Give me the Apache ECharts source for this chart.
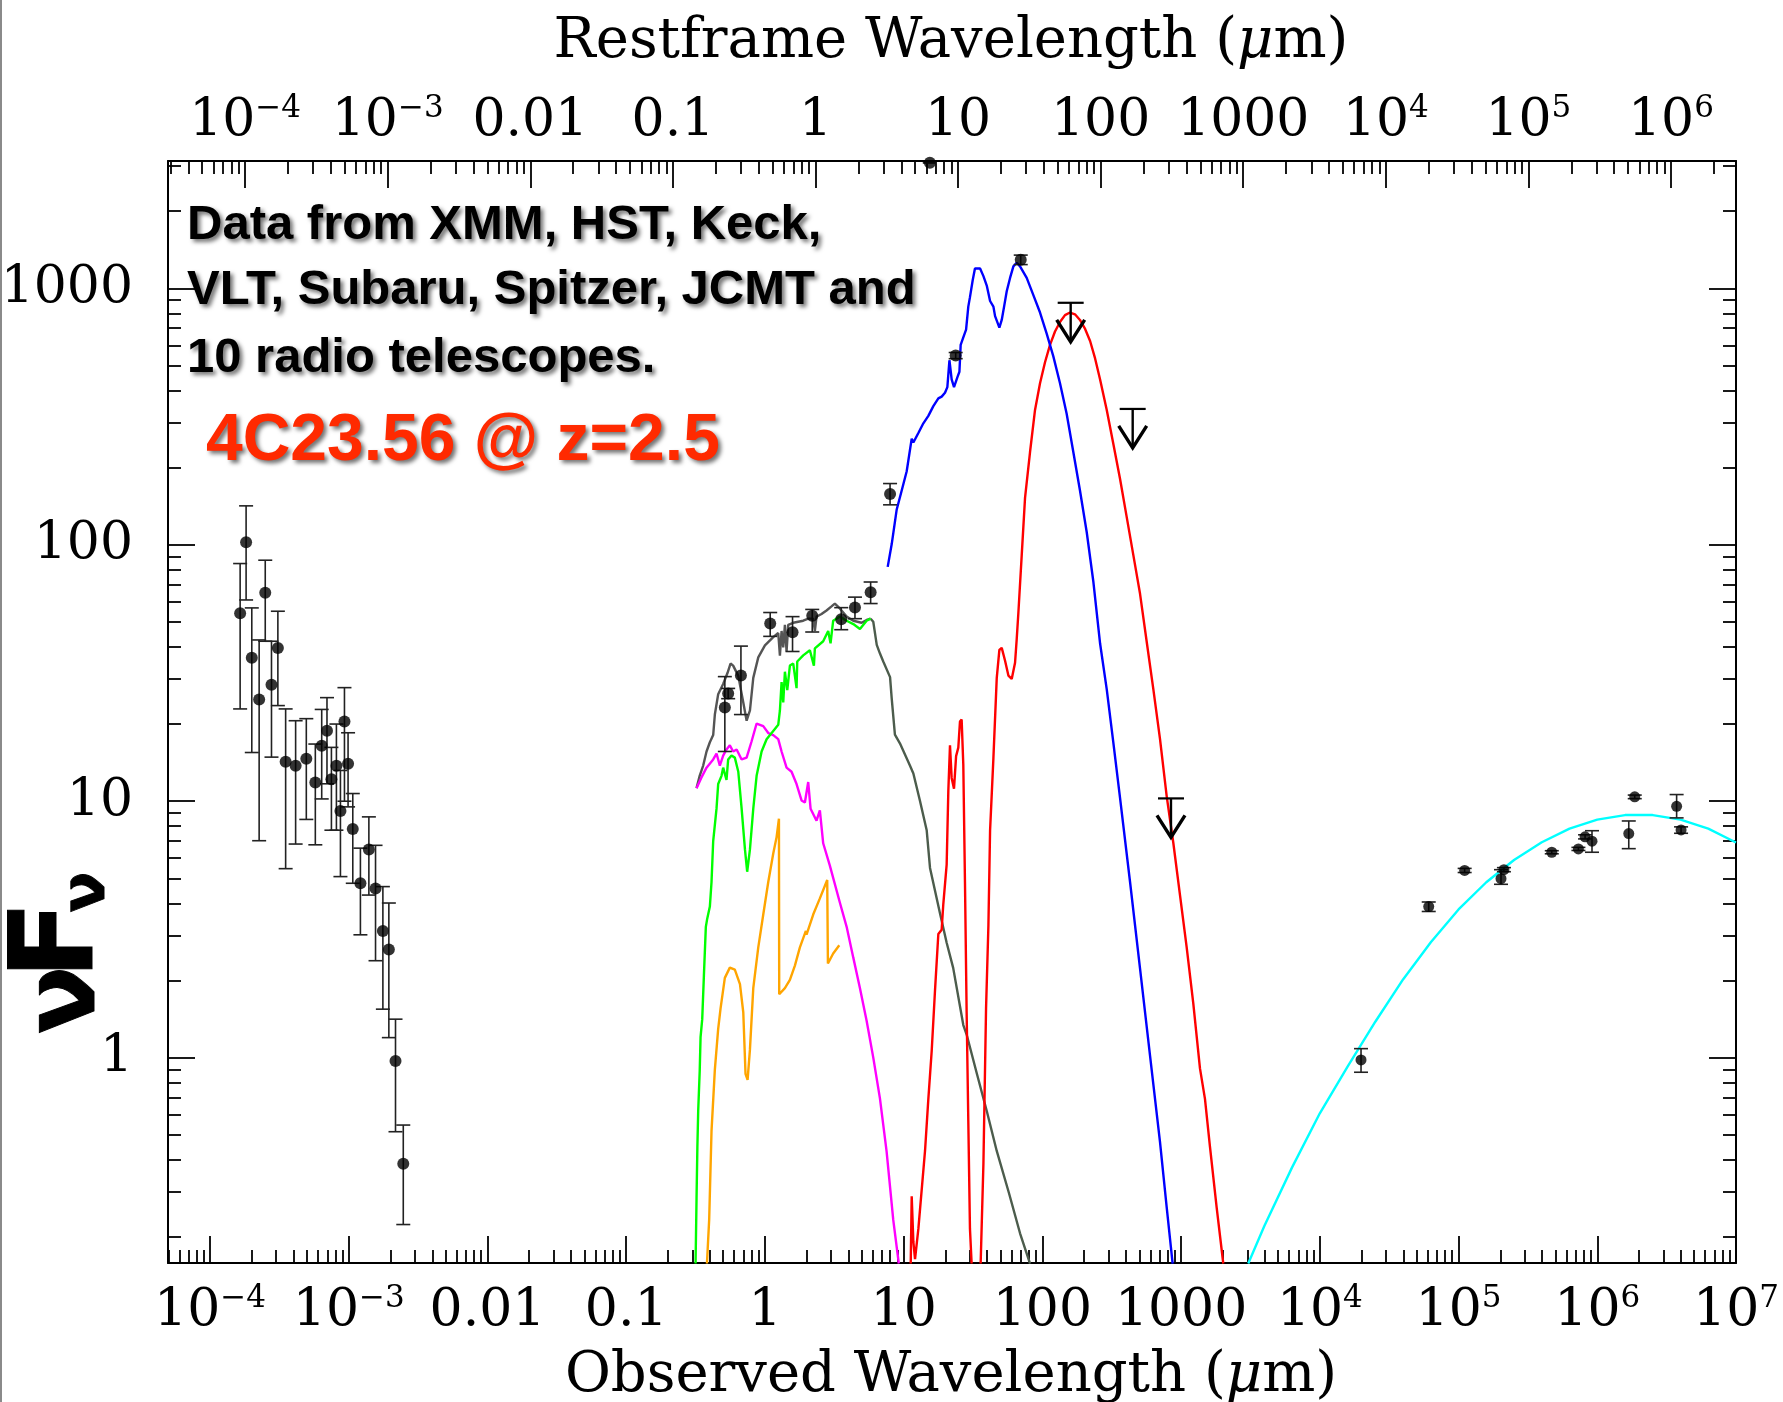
<!DOCTYPE html>
<html><head><meta charset="utf-8">
<script src="https://cdn.jsdelivr.net/npm/echarts@6/dist/echarts.min.js"></script>
<style>html,body{margin:0;padding:0;background:#fff}#chart{width:1783px;height:1402px}</style>
</head><body><div id="chart"></div>
<script>
// ---- All values below are log10 quantities: [log10 wavelength(um), log10 nuFnu] ----
// Axis tick exponents / labels
const bottomTickExps = [-4,-3,-2,-1,0,1,2,3,4,5,6,7];
const topTickExps = [-4,-3,-2,-1,0,1,2,3,4,5,6];
const yTickExps = [0,1,2,3];
const decadeText = {'-2':'0.01','-1':'0.1','0':'1','1':'10','2':'100','3':'1000'};
const minorMult = [2,3,4,5,6,7,8,9];
const xRange = [-4.303, 7];        // observed wavelength (log10 um)
const topRange = [-4.541, 6.456];  // restframe wavelength axis as drawn (log10 um)
const yRange = [-0.801, 3.497];    // log10 nuFnu

// X-ray points: [logLam, logF, logLo, logHi]
const xrayPts = [
[-3.783,1.733,1.360,1.927],[-3.740,2.010,1.785,2.152],[-3.699,1.560,1.190,1.754],[-3.646,1.397,0.846,1.629],
[-3.602,1.813,1.624,1.940],[-3.557,1.454,1.172,1.624],[-3.511,1.598,1.373,1.741],[-3.455,1.154,0.737,1.360],
[-3.383,1.138,0.833,1.314],[-3.306,1.166,0.929,1.322],[-3.241,1.073,0.830,1.223],[-3.195,1.216,1.009,1.358],
[-3.157,1.275,1.068,1.404],[-3.125,1.086,0.887,1.210],[-3.089,1.138,0.887,1.301],[-3.060,0.962,0.706,1.120],
[-3.031,1.311,1.000,1.443],[-3.005,1.146,0.978,1.267],[-2.971,0.892,0.680,1.030],[-2.916,0.680,0.479,0.817],
[-2.855,0.812,0.634,0.939],[-2.807,0.660,0.378,0.828],[-2.754,0.494,0.189,0.667],[-2.711,0.422,0.078,0.603],
[-2.663,-0.013,-0.289,0.150],[-2.607,-0.414,-0.651,-0.263]
];
// Optical / IR photometry
const optIrPts = [
[-0.289,1.366,1.194,1.486],[-0.265,1.420,1.400,1.440],[-0.173,1.490,1.338,1.605],[0.038,1.693,1.643,1.736],
[0.199,1.659,1.584,1.720],[0.341,1.723,1.660,1.748],[0.550,1.710,1.669,1.755],[0.649,1.756,1.712,1.796],
[0.762,1.815,1.771,1.855],[0.902,2.198,2.156,2.239],[1.375,2.738,2.726,2.750],[1.844,3.112,3.093,3.130],
[1.189,3.490,3.490,3.490]
];
// Radio photometry
const radioPts = [
[4.297,-0.009,-0.057,0.035],[4.785,0.589,0.570,0.607],[5.044,0.730,0.722,0.738],[5.306,0.698,0.676,0.733],
[5.327,0.733,0.725,0.741],[5.672,0.801,0.795,0.807],[5.864,0.814,0.808,0.820],[5.912,0.861,0.853,0.869],
[5.962,0.844,0.801,0.885],[6.227,0.874,0.815,0.923],[6.270,1.017,1.010,1.024],[6.572,0.980,0.935,1.026],
[6.604,0.888,0.875,0.900]
];
// Upper limits (sub-mm)
const upperLimits = [[2.204,2.944],[2.651,2.530],[2.927,1.011]];

// Model curves
const grayTotal = [[-0.493,1.051],[-0.470,1.100],[-0.445,1.139],[-0.421,1.194],[-0.397,1.230],[-0.373,1.258],[-0.361,1.338],[-0.337,1.417],[-0.301,1.457],[-0.270,1.500],[-0.248,1.537],[-0.229,1.529],[-0.192,1.489],[-0.156,1.385],[-0.132,1.314],[-0.108,1.354],[-0.084,1.481],[-0.048,1.561],[0.000,1.608],[0.060,1.640],[0.096,1.656],[0.108,1.568],[0.120,1.664],[0.132,1.600],[0.144,1.688],[0.156,1.584],[0.168,1.688],[0.204,1.696],[0.240,1.700],[0.276,1.704],[0.312,1.712],[0.348,1.712],[0.360,1.664],[0.372,1.720],[0.408,1.730],[0.444,1.744],[0.480,1.760],[0.504,1.771],[0.540,1.752],[0.589,1.720],[0.637,1.704],[0.697,1.696],[0.733,1.707],[0.762,1.712]];
const stellarTail = [[0.762,1.712],[0.781,1.700],[0.806,1.610],[0.830,1.575],[0.853,1.545],[0.902,1.484],[0.914,1.400],[0.937,1.260],[0.973,1.226],[1.046,1.138],[1.070,1.108],[1.117,1.003],[1.166,0.887],[1.190,0.740],[1.261,0.565],[1.310,0.448],[1.357,0.350],[1.430,0.127],[1.454,0.090],[1.526,-0.059],[1.600,-0.210],[1.671,-0.364],[1.760,-0.530],[1.839,-0.685],[1.911,-0.803]];
const greenStellar = [[-0.500,-0.803],[-0.493,-0.550],[-0.487,-0.350],[-0.481,-0.207],[-0.470,-0.050],[-0.464,0.080],[-0.452,0.150],[-0.440,0.319],[-0.426,0.510],[-0.416,0.542],[-0.397,0.589],[-0.385,0.685],[-0.373,0.844],[-0.349,0.971],[-0.337,1.067],[-0.313,1.099],[-0.301,1.131],[-0.277,1.083],[-0.265,1.163],[-0.241,1.178],[-0.217,1.170],[-0.192,1.115],[-0.168,0.971],[-0.144,0.812],[-0.128,0.725],[-0.108,0.812],[-0.084,0.971],[-0.060,1.099],[-0.024,1.194],[0.012,1.242],[0.060,1.274],[0.096,1.298],[0.108,1.354],[0.120,1.465],[0.132,1.385],[0.144,1.505],[0.161,1.433],[0.180,1.529],[0.204,1.537],[0.228,1.441],[0.233,1.545],[0.276,1.569],[0.324,1.589],[0.353,1.529],[0.360,1.596],[0.420,1.624],[0.456,1.664],[0.473,1.616],[0.492,1.704],[0.540,1.720],[0.589,1.704],[0.637,1.691],[0.685,1.672],[0.733,1.704],[0.762,1.712]];
const magentaYoung = [[-0.493,1.051],[-0.460,1.090],[-0.421,1.131],[-0.373,1.163],[-0.349,1.186],[-0.325,1.139],[-0.301,1.178],[-0.277,1.202],[-0.253,1.218],[-0.229,1.194],[-0.204,1.202],[-0.168,1.163],[-0.132,1.170],[-0.096,1.234],[-0.060,1.303],[-0.012,1.293],[0.024,1.266],[0.060,1.258],[0.096,1.242],[0.120,1.194],[0.156,1.131],[0.192,1.115],[0.228,1.067],[0.264,1.003],[0.288,0.995],[0.312,1.075],[0.329,0.971],[0.372,0.924],[0.396,0.964],[0.420,0.836],[0.468,0.749],[0.540,0.605],[0.589,0.510],[0.637,0.390],[0.685,0.271],[0.733,0.144],[0.781,0.000],[0.829,-0.159],[0.877,-0.366],[0.925,-0.633],[0.965,-0.803]];
const orangeOld = [[-0.418,-0.803],[-0.402,-0.633],[-0.385,-0.286],[-0.361,-0.047],[-0.337,0.112],[-0.320,0.191],[-0.289,0.311],[-0.253,0.351],[-0.217,0.343],[-0.180,0.287],[-0.156,0.176],[-0.140,-0.063],[-0.125,-0.087],[-0.108,0.032],[-0.084,0.271],[-0.048,0.430],[-0.012,0.558],[0.024,0.685],[0.060,0.796],[0.084,0.860],[0.101,0.932],[0.103,0.247],[0.144,0.271],[0.180,0.303],[0.216,0.359],[0.252,0.430],[0.295,0.494],[0.300,0.480],[0.348,0.558],[0.396,0.621],[0.449,0.693],[0.454,0.367],[0.492,0.406],[0.536,0.438]];
const redDustA = [[1.051,-0.803],[1.058,-0.541],[1.070,-0.719],[1.082,-0.786],[1.106,-0.668],[1.130,-0.516],[1.154,-0.364],[1.178,-0.161],[1.202,0.025],[1.226,0.262],[1.250,0.482],[1.274,0.499],[1.286,0.600],[1.310,0.753],[1.322,1.040],[1.334,1.218],[1.346,1.091],[1.363,1.049],[1.378,1.176],[1.394,1.209],[1.406,1.311],[1.418,1.319],[1.430,1.142],[1.442,0.685],[1.454,0.178],[1.466,-0.245],[1.478,-0.668],[1.490,-0.803]];
const redDustB = [[1.555,-0.803],[1.575,-0.414],[1.594,0.194],[1.611,0.516],[1.623,0.887],[1.647,1.168],[1.671,1.480],[1.690,1.590],[1.707,1.598],[1.731,1.548],[1.755,1.490],[1.779,1.477],[1.803,1.540],[1.815,1.632],[1.827,1.735],[1.851,1.959],[1.875,2.183],[1.911,2.362],[1.947,2.526],[1.983,2.630],[2.019,2.712],[2.055,2.780],[2.091,2.832],[2.127,2.869],[2.163,2.896],[2.199,2.906],[2.235,2.899],[2.271,2.877],[2.308,2.842],[2.344,2.795],[2.380,2.727],[2.416,2.645],[2.464,2.526],[2.512,2.392],[2.560,2.257],[2.608,2.108],[2.656,1.959],[2.704,1.809],[2.752,1.622],[2.800,1.436],[2.848,1.242],[2.896,1.020],[2.944,0.837],[2.992,0.634],[3.040,0.431],[3.088,0.211],[3.136,-0.042],[3.172,-0.161],[3.208,-0.347],[3.256,-0.583],[3.304,-0.803]];
const blueDust = [[0.885,1.914],[0.914,2.003],[0.950,2.138],[0.986,2.212],[1.022,2.287],[1.058,2.414],[1.070,2.399],[1.106,2.436],[1.142,2.474],[1.178,2.503],[1.214,2.541],[1.250,2.571],[1.274,2.578],[1.298,2.593],[1.315,2.615],[1.330,2.720],[1.346,2.645],[1.363,2.615],[1.387,2.653],[1.402,2.675],[1.411,2.780],[1.430,2.809],[1.450,2.839],[1.466,2.929],[1.478,2.966],[1.498,3.033],[1.514,3.078],[1.551,3.078],[1.575,3.048],[1.599,3.011],[1.623,2.951],[1.647,2.929],[1.659,2.892],[1.690,2.847],[1.707,2.877],[1.724,2.929],[1.743,2.989],[1.767,3.041],[1.791,3.086],[1.815,3.100],[1.839,3.086],[1.887,3.041],[1.935,2.974],[1.983,2.906],[2.031,2.824],[2.079,2.735],[2.127,2.630],[2.175,2.511],[2.223,2.362],[2.271,2.212],[2.320,2.048],[2.368,1.854],[2.416,1.615],[2.464,1.436],[2.512,1.227],[2.560,1.012],[2.632,0.685],[2.704,0.347],[2.776,0.008],[2.848,-0.330],[2.896,-0.583],[2.939,-0.803]];
const cyanSync = [[3.484,-0.803],[3.600,-0.657],[3.800,-0.428],[4.000,-0.217],[4.200,-0.035],[4.400,0.140],[4.600,0.305],[4.800,0.450],[5.000,0.578],[5.200,0.684],[5.400,0.771],[5.600,0.840],[5.800,0.893],[6.000,0.928],[6.200,0.946],[6.400,0.946],[6.600,0.928],[6.800,0.893],[7.000,0.839]];

// ---- helpers ----
function minorTicks(lo, hi) {
  const out = [];
  for (let d = Math.floor(lo) - 1; d <= Math.ceil(hi); d++) {
    for (const m of minorMult) { const v = d + Math.log10(m); if (v > lo + 0.001 && v < hi - 0.001) out.push(v); }
  }
  return out;
}
function powLabel(v) {
  const n = Math.round(v);
  if (Math.abs(v - n) > 1e-6) return '';
  if (decadeText[n] !== undefined) return '{b|' + decadeText[n] + '}';
  return '{b|10}{s|' + (n < 0 ? '\u2212' : '') + Math.abs(n) + '}';
}
const labelRich = {
  b: {fontFamily: 'DejaVu Serif', fontSize: 52, color: '#000', lineHeight: 56},
  s: {fontFamily: 'DejaVu Serif', fontSize: 31, color: '#000', lineHeight: 36, verticalAlign: 'top'}
};
function majorAxis(pos, range, ticks, withLabels, margin) {
  return {
    type: 'value', position: pos, min: range[0], max: range[1],
    splitLine: {show: false},
    axisLine: {show: true, onZero: false, lineStyle: {color: '#000', width: 2}},
    axisTick: {show: true, inside: true, length: 27, customValues: ticks, lineStyle: {color: '#000', width: 1.8}},
    axisLabel: withLabels ? {show: true, customValues: ticks, formatter: powLabel, margin: margin, rich: labelRich} : {show: false}
  };
}
function minorAxis(pos, range) {
  return {
    type: 'value', position: pos, min: range[0], max: range[1],
    splitLine: {show: false},
    axisLine: {show: false, onZero: false},
    axisTick: {show: true, inside: true, length: 13, customValues: minorTicks(range[0], range[1]), lineStyle: {color: '#000', width: 1.8}},
    axisLabel: {show: false}
  };
}
function errRender(params, api) {
  const x = api.value(0), lo = api.value(2), hi = api.value(3);
  const a = api.coord([x, lo]), b = api.coord([x, hi]);
  const w = 7;
  const st = {stroke: '#222', lineWidth: 1.6};
  return {type: 'group', children: [
    {type: 'line', shape: {x1: a[0], y1: a[1], x2: b[0], y2: b[1]}, style: st},
    {type: 'line', shape: {x1: a[0] - w, y1: a[1], x2: a[0] + w, y2: a[1]}, style: st},
    {type: 'line', shape: {x1: b[0] - w, y1: b[1], x2: b[0] + w, y2: b[1]}, style: st}
  ]};
}
function limitRender(params, api) {
  const p = api.coord([api.value(0), api.value(1)]);
  const L = 39, hw = 13, aw = 14, ah = 22;
  return {type: 'group', children: [
    {type: 'line', shape: {x1: p[0] - hw, y1: p[1], x2: p[0] + hw, y2: p[1]}, style: {stroke: '#000', lineWidth: 2.2}},
    {type: 'line', shape: {x1: p[0], y1: p[1], x2: p[0], y2: p[1] + L}, style: {stroke: '#000', lineWidth: 2.4}},
    {type: 'polyline', shape: {points: [[p[0] - aw, p[1] + L - ah], [p[0], p[1] + L], [p[0] + aw, p[1] + L - ah]]}, style: {stroke: '#000', lineWidth: 3.4, fill: null}}
  ]};
}
function lineSeries(data, color, z) {
  return {type: 'line', data: data, xAxisIndex: 0, yAxisIndex: 0, symbol: 'none', showSymbol: false, clip: true,
    lineStyle: {color: color, width: 2.4}, z: z || 2, silent: true};
}
function errSeries(data) {
  return {type: 'custom', data: data, xAxisIndex: 0, yAxisIndex: 0, renderItem: errRender, encode: {x: 0, y: 1}, z: 5, silent: true};
}
function ptSeries(data, size) {
  return {type: 'scatter', data: data.map(function (p) { return [p[0], p[1]]; }), xAxisIndex: 0, yAxisIndex: 0,
    symbol: 'circle', symbolSize: size, itemStyle: {color: '#000'}, z: 6, silent: true};
}
const shadow = {textShadowColor: 'rgba(0,0,0,0.55)', textShadowBlur: 4, textShadowOffsetX: 3, textShadowOffsetY: 3};
function note(text, x, y, font, fill) {
  return {type: 'text', x: x, y: y, z: 50, style: Object.assign({text: text, font: font, fill: fill, align: 'left', verticalAlign: 'middle'}, shadow)};
}
function rotText(text, x, y, size) {
  return {type: 'text', x: x, y: y, rotation: Math.PI / 2, z: 50,
    style: {text: text, fontFamily: 'DejaVu Sans', fontWeight: 'bold', fontSize: size, fill: '#000', align: 'center', verticalAlign: 'middle',
      stroke: '#000', lineWidth: 1}};
}
const titleRich = {
  n: {fontFamily: 'DejaVu Serif', fontSize: 56, color: '#000'},
  i: {fontFamily: 'DejaVu Serif', fontStyle: 'italic', fontSize: 56, color: '#000'}
};

const chart = echarts.init(document.getElementById('chart'), null, {renderer: 'canvas'});
chart.setOption({
  animation: false,
  backgroundColor: '#fff',
  grid: {left: 168, right: 47, top: 161, bottom: 139, containLabel: false, outerBoundsMode: 'none'},
  xAxis: [
    majorAxis('bottom', xRange, bottomTickExps, true, 20),
    minorAxis('bottom', xRange),
    majorAxis('top', topRange, topTickExps, true, 12),
    minorAxis('top', topRange)
  ],
  yAxis: [
    majorAxis('left', yRange, yTickExps, true, 35),
    minorAxis('left', yRange),
    majorAxis('right', yRange, yTickExps, false, 0),
    minorAxis('right', yRange)
  ],
  series: [
    lineSeries(grayTotal, '#555555', 2),
    lineSeries(stellarTail, '#4c5c4c', 2),
    lineSeries(magentaYoung, '#ff00ff', 2),
    lineSeries(greenStellar, '#00ff00', 3),
    lineSeries(orangeOld, '#ffa500', 2),
    lineSeries(redDustA, '#ff0000', 2),
    lineSeries(redDustB, '#ff0000', 2),
    lineSeries(blueDust, '#0000ff', 2),
    lineSeries(cyanSync, '#00ffff', 2),
    errSeries(xrayPts), ptSeries(xrayPts, 12),
    errSeries(optIrPts), ptSeries(optIrPts, 12),
    errSeries(radioPts), ptSeries(radioPts, 11),
    {type: 'custom', data: upperLimits, xAxisIndex: 0, yAxisIndex: 0, renderItem: limitRender, encode: {x: 0, y: 1}, z: 6, silent: true}
  ],
  graphic: [
    {type: 'rect', shape: {x: 0, y: 0, width: 2, height: 1402}, style: {fill: '#8a8a8a'}, z: 50},
    note('Data from XMM, HST, Keck,', 187, 225, 'bold 49px "Liberation Sans"', '#000'),
    note('VLT, Subaru, Spitzer, JCMT and', 187, 290, 'bold 49px "Liberation Sans"', '#000'),
    note('10 radio telescopes.', 187, 358, 'bold 49px "Liberation Sans"', '#000'),
    note('4C23.56 @ z=2.5', 206, 442, 'bold 66px "Liberation Sans"', '#ff2a00'),
    {type: 'text', x: 951, y: 1376, z: 50, style: {text: '{n|Observed Wavelength (}{i|\u03bc}{n|m)}', align: 'center', verticalAlign: 'middle', rich: titleRich}},
    {type: 'text', x: 951, y: 42, z: 50, style: {text: '{n|Restframe Wavelength (}{i|\u03bc}{n|m)}', align: 'center', verticalAlign: 'middle', rich: titleRich}},
    rotText('\u03bd', 68, 1000, 100),
    rotText('F', 62, 940, 115),
    rotText('\u03bd', 88, 892, 60)
  ]
});
</script>
</body></html>
